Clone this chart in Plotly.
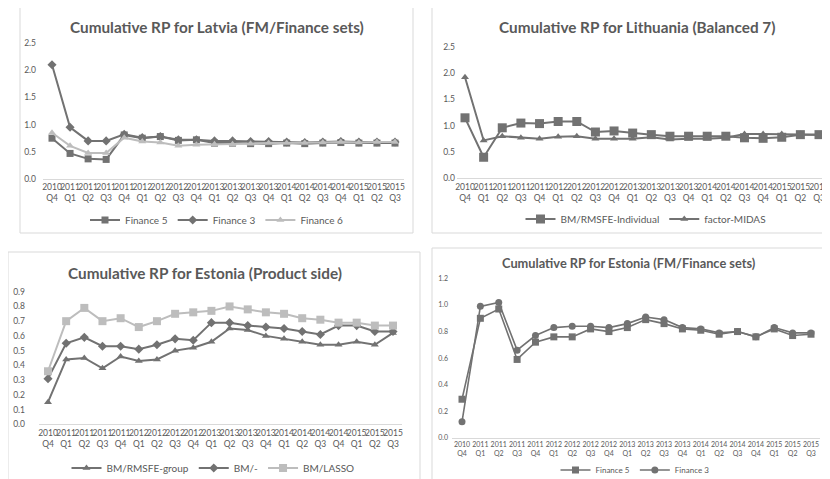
import plotly.graph_objects as go

# ---------------- data ----------------
years = ["2010", "2011", "2011", "2011", "2011", "2012", "2012", "2012", "2012", "2013",
         "2013", "2013", "2013", "2014", "2014", "2014", "2014", "2015", "2015", "2015"]
quarters = ["Q4", "Q1", "Q2", "Q3", "Q4", "Q1", "Q2", "Q3", "Q4", "Q1",
            "Q2", "Q3", "Q4", "Q1", "Q2", "Q3", "Q4", "Q1", "Q2", "Q3"]

# Latvia (FM/Finance sets)
lv_finance5 = [0.75, 0.47, 0.37, 0.36, 0.81, 0.75, 0.78, 0.71, 0.72, 0.66,
               0.66, 0.65, 0.65, 0.66, 0.65, 0.66, 0.67, 0.66, 0.66, 0.66]
lv_finance3 = [2.10, 0.95, 0.70, 0.70, 0.82, 0.76, 0.78, 0.72, 0.72, 0.70,
               0.70, 0.69, 0.69, 0.68, 0.67, 0.68, 0.69, 0.68, 0.68, 0.68]
lv_finance6 = [0.85, 0.61, 0.48, 0.48, 0.76, 0.69, 0.67, 0.61, 0.63, 0.64,
               0.64, 0.65, 0.66, 0.66, 0.66, 0.67, 0.68, 0.67, 0.68, 0.68]

# Lithuania (Balanced 7)
lt_bm_rmsfe_ind = [1.15, 0.40, 0.96, 1.05, 1.04, 1.08, 1.08, 0.88, 0.90, 0.86,
                   0.83, 0.80, 0.80, 0.80, 0.80, 0.77, 0.76, 0.78, 0.83, 0.83]
lt_factor_midas = [1.92, 0.72, 0.80, 0.77, 0.75, 0.79, 0.80, 0.75, 0.75, 0.75,
                   0.78, 0.74, 0.75, 0.75, 0.77, 0.84, 0.84, 0.84, 0.84, 0.83]

# Estonia (Product side)
ee_bm_rmsfe_group = [0.15, 0.44, 0.45, 0.38, 0.46, 0.43, 0.44, 0.50, 0.52, 0.56,
                     0.65, 0.64, 0.60, 0.58, 0.56, 0.54, 0.54, 0.56, 0.54, 0.62]
ee_bm_dash = [0.31, 0.55, 0.59, 0.53, 0.53, 0.51, 0.54, 0.58, 0.57, 0.69,
              0.69, 0.67, 0.66, 0.65, 0.63, 0.61, 0.67, 0.67, 0.63, 0.63]
ee_bm_lasso = [0.36, 0.70, 0.79, 0.70, 0.72, 0.66, 0.70, 0.75, 0.76, 0.77,
               0.80, 0.78, 0.76, 0.75, 0.72, 0.71, 0.69, 0.69, 0.67, 0.67]

# Estonia (FM/Finance sets)
ee_finance5 = [0.29, 0.90, 0.97, 0.59, 0.72, 0.76, 0.76, 0.82, 0.80, 0.83,
               0.89, 0.86, 0.82, 0.81, 0.78, 0.80, 0.76, 0.82, 0.77, 0.78]
ee_finance3 = [0.12, 0.99, 1.02, 0.66, 0.77, 0.83, 0.84, 0.84, 0.83, 0.86,
               0.91, 0.89, 0.83, 0.82, 0.79, 0.80, 0.76, 0.83, 0.79, 0.79]

titles = ["Cumulative RP for Latvia (FM/Finance sets)",
          "Cumulative RP for Lithuania (Balanced 7)",
          "Cumulative RP for Estonia (Product side)",
          "Cumulative RP for Estonia (FM/Finance sets)"]

cats = [f"{y}<br>{q}" for y, q in zip(years, quarters)]

# ---------------- styling ----------------
OFF = 8                      # page body margin of the html page
W, H = 830 - OFF, 479 - OFF
DARK = "#727272"
LIGHT = "#bdbdbd"
TXT = "#595959"
FONT = "Lato, 'Open Sans', sans-serif"


def px_x(p):
    return (p - OFF) / W


def px_y(p):
    return 1 - (p - OFF) / H


fig = go.Figure()

# panel geometry in target pixels: first/last category centre, y top / bottom
panels = [
    dict(c=(52, 395), dom=(43, 404), y=(43, 179), rng=[0, 2.5], dtick=0.5, so=6),
    dict(c=(465, 819), dom=(457, 830), y=(46.8, 178.3), rng=[0, 2.5], dtick=0.5, so=1),
    dict(c=(48, 393), dom=(39, 402), y=(291.7, 424.3), rng=[0, 0.9], dtick=0.1, so=13),
    dict(c=(462, 811), dom=(452, 820), y=(278.5, 437.7), rng=[0, 1.2], dtick=0.2, so=3),
]

series = [
    [("Finance 5", lv_finance5, "square", DARK, 7),
     ("Finance 3", lv_finance3, "diamond", DARK, 7),
     ("Finance 6", lv_finance6, "triangle-up", LIGHT, 7)],
    [("BM/RMSFE-Individual", lt_bm_rmsfe_ind, "square", DARK, 9),
     ("factor-MIDAS", lt_factor_midas, "triangle-up", DARK, 7)],
    [("BM/RMSFE-group", ee_bm_rmsfe_group, "triangle-up", DARK, 7),
     ("BM/-", ee_bm_dash, "diamond", DARK, 7),
     ("BM/LASSO", ee_bm_lasso, "square", LIGHT, 8)],
    [("Finance 5", ee_finance5, "square", DARK, 7),
     ("Finance 3", ee_finance3, "circle", DARK, 7)],
]

legend_pos = [(217, 220), (646, 219), (213, 468), (635, 470)]
title_pos = [(217, 27, 15.3), (637, 27, 15.3), (205, 273, 15.3), (629, 263, 12.8)]
tick_sizes = [8.5, 8.5, 8.5, 7]
frames = [(20, 413, 7, 233), (432, 840, 7, 233), (8, 420, 252, 490), (432, 840, 248, 490)]

for i, (pan, ser) in enumerate(zip(panels, series)):
    n = i + 1
    xa = "x" if n == 1 else f"x{n}"
    ya = "y" if n == 1 else f"y{n}"
    lg = "legend" if n == 1 else f"legend{n}"
    c0, c1 = pan["c"]
    d0, d1 = pan["dom"]
    step = (c1 - c0) / 19.0
    rng_lo = -(c0 - d0) / step
    rng_hi = 19 + (d1 - c1) / step
    yt, yb = pan["y"]
    xkey = "xaxis" if n == 1 else f"xaxis{n}"
    ykey = "yaxis" if n == 1 else f"yaxis{n}"
    fig.update_layout(**{
        xkey: dict(domain=[max(0, px_x(d0)), min(1, px_x(d1))], anchor=ya, type="category",
                   range=[rng_lo, rng_hi], showgrid=False, zeroline=False,
                   showline=True, linecolor="#d9d9d9", linewidth=1, ticks="",
                   tickfont=dict(family=FONT, size=tick_sizes[i], color=TXT),
                   tickangle=0, fixedrange=True, automargin=False),
        ykey: dict(domain=[px_y(yb), px_y(yt)], anchor=xa, range=pan["rng"],
                   dtick=pan["dtick"], tickformat=".1f", showgrid=False,
                   zeroline=False, showline=False, ticks="",
                   tickfont=dict(family=FONT, size=tick_sizes[i], color=TXT),
                   ticklabelstandoff=pan["so"], automargin=False),
    })
    for name, vals, sym, col, msize in ser:
        fig.add_trace(go.Scatter(
            x=cats, y=vals, name=name, mode="lines+markers",
            xaxis=xa, yaxis=ya, legend=lg,
            line=dict(color=col, width=2 if n != 4 else 1.6),
            marker=dict(symbol=sym, size=msize, color=col),
            cliponaxis=False,
        ))
    lx, ly = legend_pos[i]
    fig.update_layout(**{lg: dict(
        orientation="h", x=px_x(lx), y=px_y(ly), xanchor="center", yanchor="middle",
        font=dict(family=FONT, size=10 if n != 4 else 8, color=TXT),
        itemwidth=30, bgcolor="rgba(0,0,0,0)", tracegroupgap=0,
    )})
    tx, ty, ts = title_pos[i]
    fig.add_annotation(text=f"<b>{titles[i]}</b>", x=px_x(tx), y=px_y(ty),
                       xref="paper", yref="paper", showarrow=False,
                       xanchor="center", yanchor="middle",
                       font=dict(family=FONT, size=ts, color=TXT))
    fx0, fx1, fy0, fy1 = frames[i]
    fig.add_shape(type="rect", xref="paper", yref="paper",
                  x0=px_x(fx0), x1=px_x(fx1), y0=px_y(fy1), y1=px_y(fy0),
                  line=dict(color="#d9d9d9", width=1), fillcolor="rgba(0,0,0,0)",
                  layer="below")

fig.update_layout(width=W, height=H,
                  margin=dict(l=0, r=0, t=0, b=0, autoexpand=False),
                  paper_bgcolor="white", plot_bgcolor="white", showlegend=True,
                  font=dict(family=FONT, color=TXT))

fig.write_html("out.html")
